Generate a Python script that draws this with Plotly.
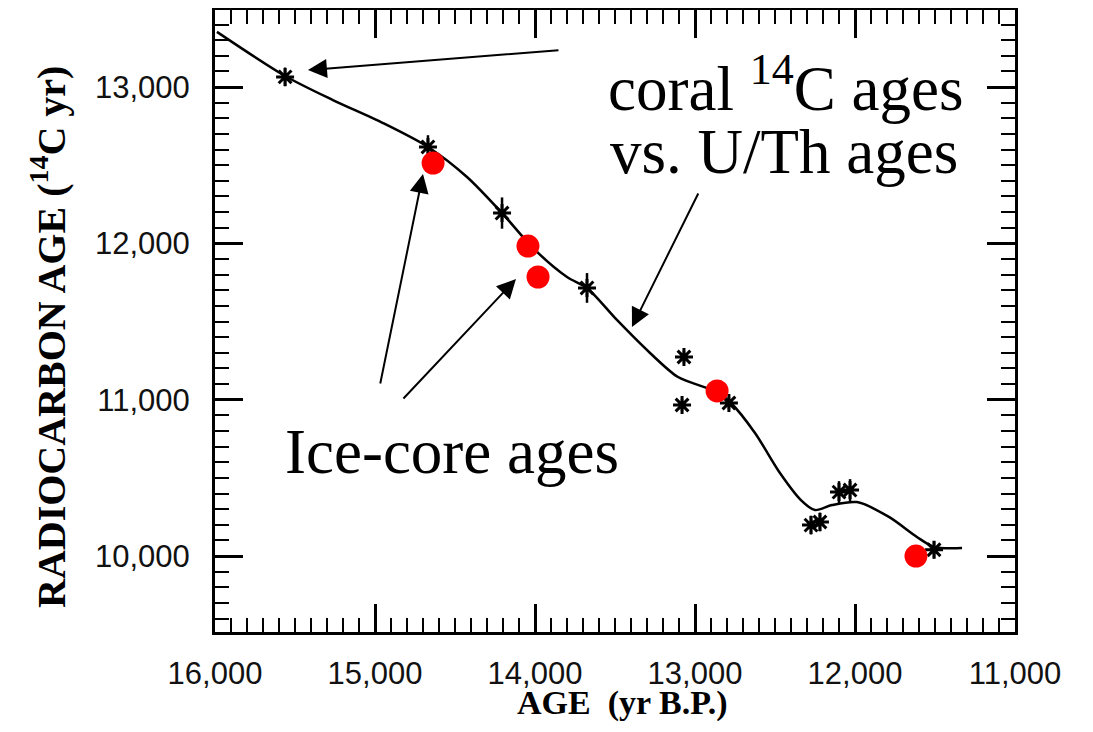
import plotly.graph_objects as go

# ---- data ----
curve_age = [15988, 15562, 15263, 14950, 14669, 14425, 14206, 14013, 13800, 13675,
             13488, 13281, 13106, 12862, 12775, 12625, 12469, 12338, 12250, 12144,
             11988, 11788, 11613, 11506, 11331]
curve_c14 = [13353, 13071, 12917, 12770, 12617, 12425, 12194, 11971, 11785, 11715,
             11510, 11299, 11145, 11049, 10979, 10787, 10531, 10358, 10294, 10326,
             10345, 10250, 10122, 10058, 10051]

coral_age = [15562, 14669, 14206, 13675, 13069, 13081, 12788, 12275, 12219, 12100, 12031, 11506]
coral_c14 = [13065, 12617, 12194, 11715, 11273, 10966, 10979, 10198, 10218, 10409, 10422, 10040]
coral_err = [60, 75, 100, 95, 40, 40, 40, 60, 60, 70, 70, 55]

ice_age = [14637, 14044, 13981, 12862, 11619]
ice_c14 = [12514, 11983, 11785, 11056, 10000]

x_tickvals = [16000, 15000, 14000, 13000, 12000, 11000]
x_ticktext = ["16,000", "15,000", "14,000", "13,000", "12,000", "11,000"]
y_tickvals = [10000, 11000, 12000, 13000]
y_ticktext = ["10,000", "11,000", "12,000", "13,000"]

serif = "Liberation Serif, Times New Roman, serif"
sans = "Liberation Sans, Arial, sans-serif"

fig = go.Figure()

fig.add_trace(go.Scatter(
    x=curve_age, y=curve_c14, mode="lines",
    line=dict(color="black", width=2.5, shape="spline", smoothing=0.8),
    showlegend=False, hoverinfo="skip"))

fig.add_trace(go.Scatter(
    x=coral_age, y=coral_c14, mode="markers",
    marker=dict(symbol="asterisk-open", size=15, color="black",
                line=dict(color="black", width=3)),
    error_y=dict(type="data", array=coral_err, visible=True,
                 color="black", thickness=2.5, width=0),
    showlegend=False))

fig.add_trace(go.Scatter(
    x=ice_age, y=ice_c14, mode="markers",
    marker=dict(symbol="circle", size=23, color="#ff0000", line=dict(width=0)),
    showlegend=False))

# ---- annotations: labels and arrows ----
arrows = [
    # (tip_age, tip_c14, tail_age, tail_c14)
    (15419, 13109, 13844, 13237),
    (14700, 12444, 14969, 11094),
    (14119, 11772, 14831, 10998),
    (13394, 11465, 12975, 12329),
]
for tx, ty, sx, sy in arrows:
    fig.add_annotation(x=tx, y=ty, ax=sx, ay=sy, xref="x", yref="y",
                       axref="x", ayref="y", text="", showarrow=True,
                       arrowhead=2, arrowsize=1.9, arrowwidth=2,
                       arrowcolor="black")

# plot area on the page: x 215..1015, y 10..632
fig.add_annotation(x=(785 - 215) / 800, y=(632 - 84) / 622, xref="paper", yref="paper",
                   text="coral <sup>14</sup>C ages", showarrow=False,
                   font=dict(family=serif, size=63, color="black"),
                   xanchor="center", yanchor="middle")
fig.add_annotation(x=(784 - 215) / 800, y=(632 - 152) / 622, xref="paper", yref="paper",
                   text="vs. U/Th ages", showarrow=False,
                   font=dict(family=serif, size=63, color="black"),
                   xanchor="center", yanchor="middle")
fig.add_annotation(x=(452 - 215) / 800, y=(632 - 452) / 622, xref="paper", yref="paper",
                   text="Ice-core ages", showarrow=False,
                   font=dict(family=serif, size=63, color="black"),
                   xanchor="center", yanchor="middle")

# axis titles (placed to match the reference)
fig.add_annotation(x=(48 - 215) / 800, y=(632 - 337) / 622, xref="paper", yref="paper",
                   text="<b>RADIOCARBON AGE (<sup>14</sup>C yr)</b>", showarrow=False,
                   textangle=-90, font=dict(family=serif, size=40, color="black"),
                   xanchor="center", yanchor="middle")
fig.add_annotation(x=(622 - 215) / 800, y=(632 - 703) / 622, xref="paper", yref="paper",
                   text="<b>AGE&nbsp; (yr B.P.)</b>", showarrow=False,
                   font=dict(family=serif, size=34, color="black"),
                   xanchor="center", yanchor="middle")

fig.update_xaxes(
    range=[16000, 11000], tickvals=x_tickvals, ticktext=x_ticktext,
    ticks="inside", ticklen=28, tickwidth=2.5, tickcolor="black",
    minor=dict(dtick=100, ticks="inside", ticklen=14, tickwidth=2, tickcolor="black"),
    showline=True, linecolor="black", linewidth=3, mirror="ticks",
    showgrid=False, zeroline=False, ticklabelstandoff=12, automargin=False,
    tickfont=dict(family=sans, size=31, color="#111111"))

fig.update_yaxes(
    range=[9514, 13493], tickvals=y_tickvals, ticktext=y_ticktext,
    ticks="inside", ticklen=28, tickwidth=2.5, tickcolor="black",
    minor=dict(dtick=100, ticks="inside", ticklen=14, tickwidth=2, tickcolor="black"),
    showline=True, linecolor="black", linewidth=3, mirror="ticks",
    showgrid=False, zeroline=False, ticklabelstandoff=16, automargin=False,
    tickfont=dict(family=sans, size=31, color="#111111"))

# the page body adds an 8px margin, so the figure is sized and offset for it
fig.update_layout(
    width=1077, height=716,
    margin=dict(l=207, r=70, t=2, b=92),
    paper_bgcolor="white", plot_bgcolor="white",
    showlegend=False)

fig.write_html("out.html")
